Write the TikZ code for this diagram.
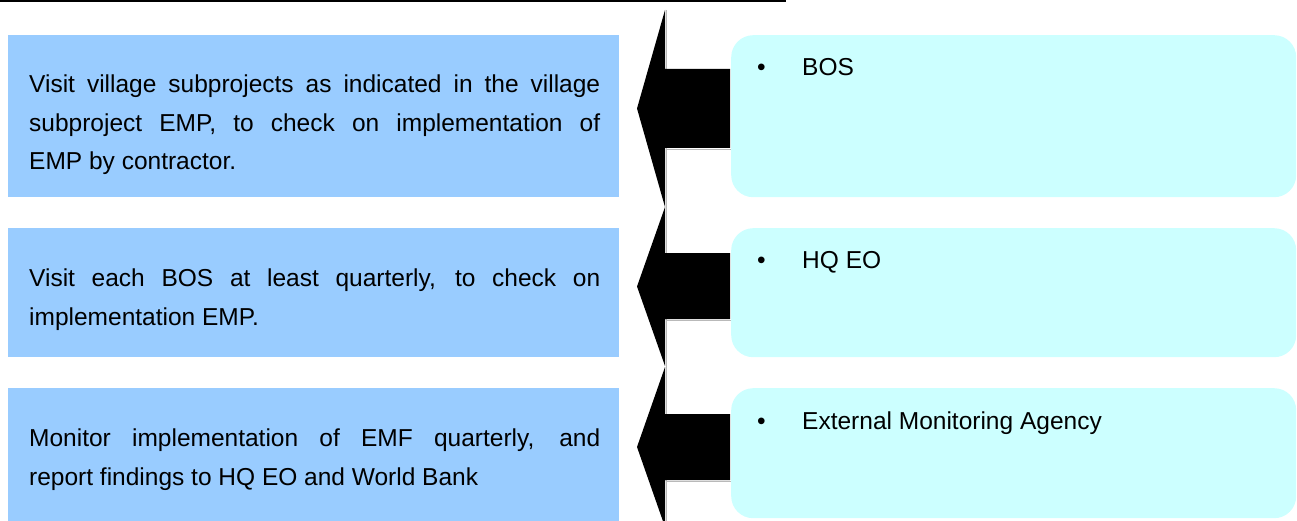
\documentclass[tikz,border=0pt]{standalone}
\usepackage{fontspec}
\setmainfont{Liberation Sans}
\definecolor{boxblue}{HTML}{99CCFF}
\definecolor{boxcyan}{HTML}{CCFFFF}
\tikzset{
  bluebox/.style={fill=boxblue, draw=none, anchor=north west, inner sep=0pt, minimum width=611pt},
  cyanbox/.style={fill=boxcyan, draw=none, anchor=north west, inner sep=0pt, minimum width=565pt, rounded corners=22pt},
  lefttext/.style={anchor=north west, inner sep=0pt, text width=571pt, align=justify,
     font=\fontsize{24.5}{38.5}\selectfont},
  righttext/.style={anchor=base west, inner sep=0pt, font=\fontsize{24.5}{28}\selectfont},
  blockarrow/.style={fill=black, draw=none},
  arrowshadow/.style={draw=gray!55, line width=1.5pt},
}
\newcommand{\bul}[1]{\makebox[45pt][l]{•}#1}
\begin{document}
\begin{tikzpicture}[x=1pt, y=-1pt]
\useasboundingbox (0,0) rectangle (1297,521);
\clip (0,0) rectangle (1297,521);
% top rule
\draw[line width=2.4pt] (0,1.2) -- (786,1.2);
% left boxes
\node[bluebox, minimum height=162pt] (l1) at (8,35) {};
\node[bluebox, minimum height=129pt] (l2) at (8,228) {};
\node[bluebox, minimum height=133pt] (l3) at (8,388) {};
\node[lefttext] (t1) at (29,65.75) {\strut Visit village subprojects as indicated in the village\linebreak subproject EMP, to check on implementation of\linebreak EMP by contractor.};
\node[lefttext] (t2) at (29,259.5) {\strut Visit each BOS at least quarterly, to check on\linebreak implementation EMP.};
\node[lefttext] (t3) at (29,419.5) {\strut Monitor implementation of EMF quarterly, and\linebreak report findings to HQ EO and World Bank};
% right boxes
\node[cyanbox, minimum height=162pt] (r1) at (731,35) {};
\node[cyanbox, minimum height=129pt] (r2) at (731,228) {};
\node[cyanbox, minimum height=130pt] (r3) at (731,388) {};
\node[righttext] (s1) at (757,76) {\bul{BOS}};
\node[righttext] (s2) at (757,269) {\bul{HQ EO}};
\node[righttext] (s3) at (757,429) {\bul{External Monitoring Agency}};
% block arrows: shadows
\draw[arrowshadow] (666.5,10) -- (666.5,207);
\draw[arrowshadow] (666,149.5) -- (731,149.5);
\draw[arrowshadow] (666.5,207) -- (666.5,367);
\draw[arrowshadow] (666,320.5) -- (731,320.5);
\draw[arrowshadow] (666.5,367) -- (666.5,530);
\draw[arrowshadow] (666,481.5) -- (731,481.5);
% block arrows
\fill[blockarrow] (637,108.5) -- (665,10) -- (665,69) -- (730,69) -- (730,148) -- (665,148) -- (665,207) -- cycle;
\fill[blockarrow] (637,286.5) -- (665,207) -- (665,253) -- (730,253) -- (730,319) -- (665,319) -- (665,366) -- cycle;
\fill[blockarrow] (637,447) -- (665,367) -- (665,414) -- (730,414) -- (730,480) -- (665,480) -- (665,527) -- cycle;
\end{tikzpicture}
\end{document}
